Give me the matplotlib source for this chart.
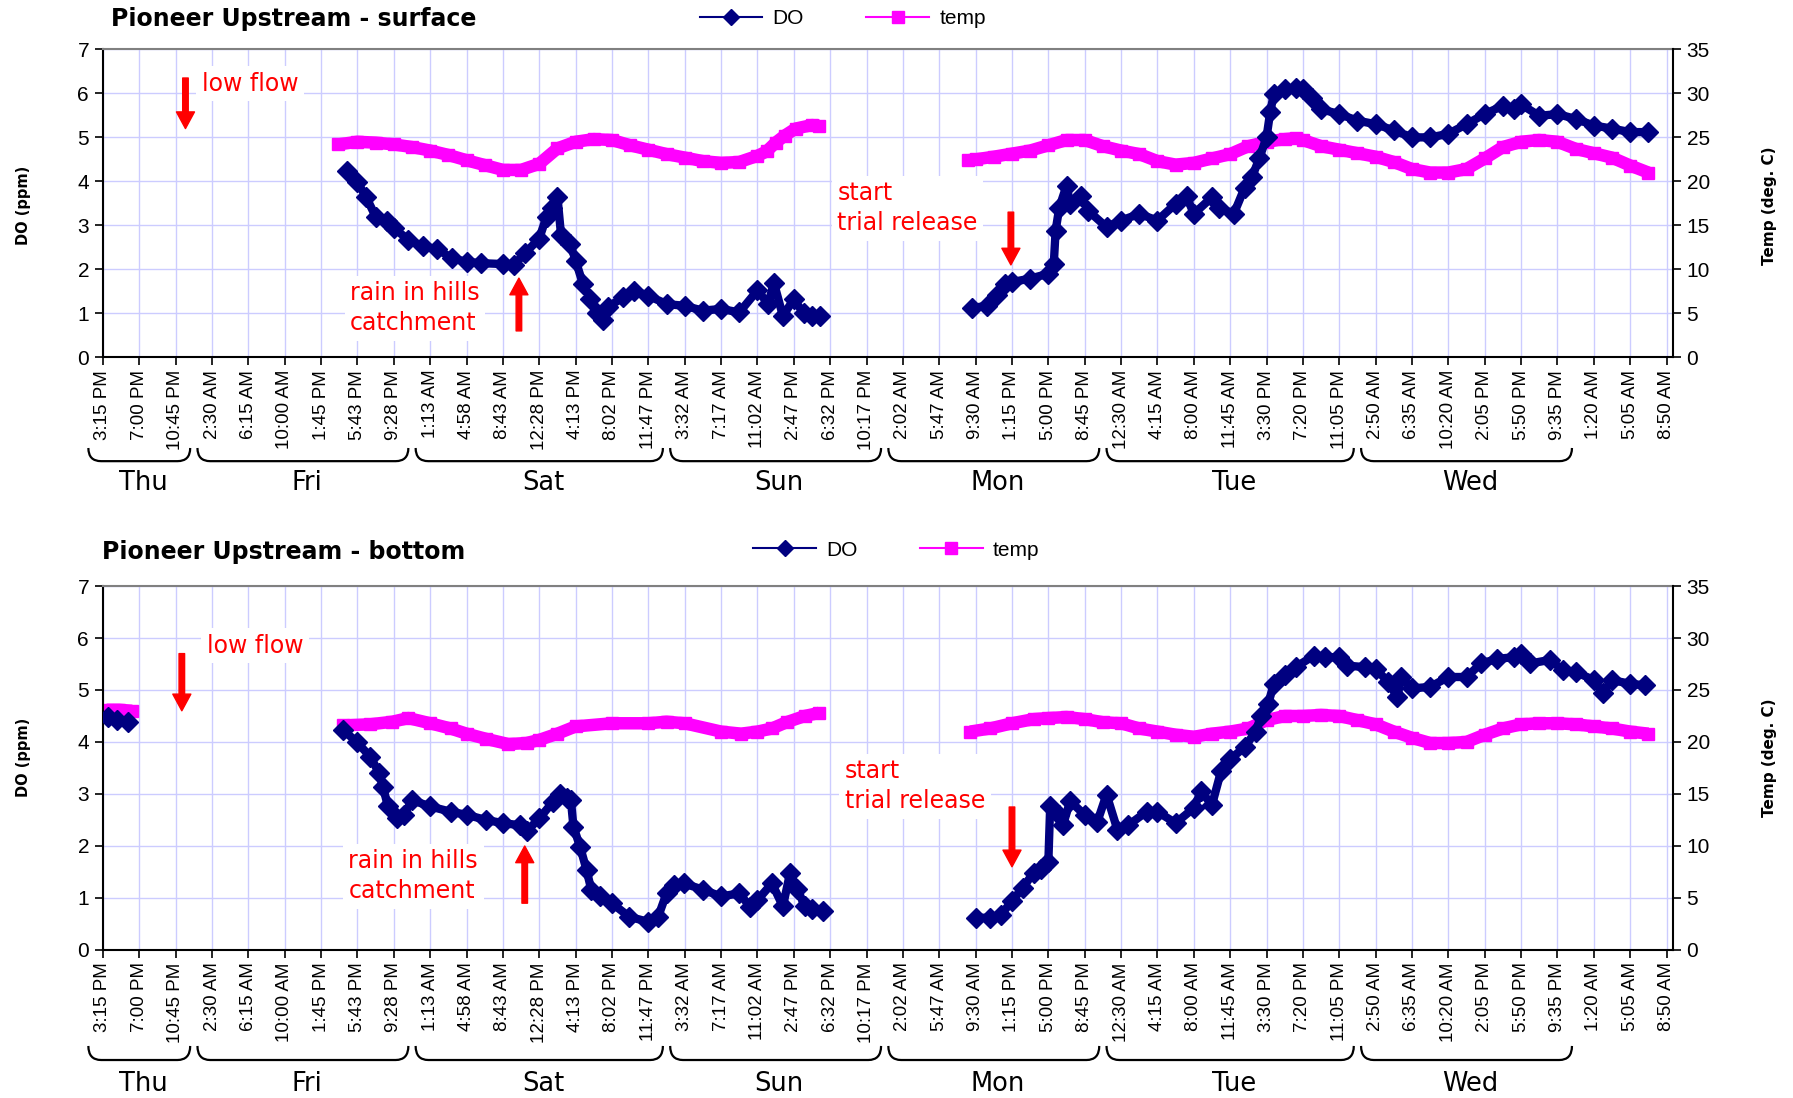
import matplotlib
matplotlib.use("Agg")
import matplotlib.pyplot as plt
import matplotlib.transforms as mtransforms
from matplotlib.path import Path
from matplotlib.patches import PathPatch
from matplotlib.lines import Line2D
import numpy as np

plt.rcParams["font.family"] = ["Liberation Sans", "DejaVu Sans"]

# category labels (one every 15 readings)
tick_labels = [
    "3:15 PM", "7:00 PM", "10:45 PM", "2:30 AM", "6:15 AM", "10:00 AM", "1:45 PM",
    "5:43 PM", "9:28 PM", "1:13 AM", "4:58 AM", "8:43 AM", "12:28 PM", "4:13 PM",
    "8:02 PM", "11:47 PM", "3:32 AM", "7:17 AM", "11:02 AM", "2:47 PM", "6:32 PM",
    "10:17 PM", "2:02 AM", "5:47 AM", "9:30 AM", "1:15 PM", "5:00 PM", "8:45 PM",
    "12:30 AM", "4:15 AM", "8:00 AM", "11:45 AM", "3:30 PM", "7:20 PM", "11:05 PM",
    "2:50 AM", "6:35 AM", "10:20 AM", "2:05 PM", "5:50 PM", "9:35 PM", "1:20 AM",
    "5:05 AM", "8:50 AM",
]
days = ["Thu", "Fri", "Sat", "Sun", "Mon", "Tue", "Wed"]
day_first = [0, 3, 9, 16, 22, 28, 35]
day_last = [2, 8, 15, 21, 27, 34, 40]

nan = np.nan

# ---- surface ----
surf_do_x = [6.72, 7.0, 7.24, 7.5, 7.8, 8.0, 8.4, 8.8, 9.2, 9.6, 10.0, 10.4, 11.0, 11.3, 11.6,
             12.0, 12.2, 12.35, 12.5, 12.6, 12.85, 13.0, 13.2, 13.4, 13.6, 13.75, 13.9, 14.3,
             14.6, 15.0, 15.5, 16.0, 16.5, 17.0, 17.5, 18.0, 18.3, 18.45, 18.7, 19.0, 19.27,
             19.5, 19.72, nan,
             23.9, 24.3, 24.6, 24.8, 25.0, 25.5, 26.0, 26.15, 26.2, 26.3, 26.5, 26.6, 26.9,
             27.1, 27.6, 28.0, 28.5, 29.0, 29.5, 29.8, 30.0, 30.5, 30.7, 31.1, 31.4, 31.6,
             31.8, 32.0, 32.1, 32.2, 32.5, 32.8, 33.0, 33.25, 33.5, 34.0, 34.5, 35.0, 35.5,
             36.0, 36.5, 37.0, 37.5, 38.0, 38.5, 38.8, 39.0, 39.5, 40.0, 40.5, 41.0, 41.5,
             42.0, 42.5]
surf_do = [4.24, 3.98, 3.64, 3.2, 3.09, 2.94, 2.67, 2.52, 2.46, 2.25, 2.17, 2.14, 2.12, 2.1, 2.36,
           2.7, 3.2, 3.4, 3.65, 2.77, 2.58, 2.2, 1.67, 1.33, 1.0, 0.85, 1.15, 1.36,
           1.51, 1.4, 1.21, 1.17, 1.06, 1.1, 1.02, 1.52, 1.21, 1.7, 0.94, 1.32, 1.0,
           0.94, 0.94, nan,
           1.12, 1.17, 1.42, 1.67, 1.71, 1.79, 1.9, 2.13, 2.88, 3.4, 3.9, 3.49, 3.67,
           3.33, 2.96, 3.11, 3.26, 3.11, 3.49, 3.67, 3.26, 3.64, 3.4, 3.26, 3.86, 4.09,
           4.52, 5.0, 5.57, 5.98, 6.09, 6.13, 6.09, 5.9, 5.64, 5.53, 5.38, 5.3, 5.16,
           5.0, 5.0, 5.08, 5.3, 5.53, 5.72, 5.64, 5.75, 5.49, 5.53, 5.42, 5.27, 5.2,
           5.12, 5.12]
surf_temp_x = [6.47, 7.0, 7.5, 8.0, 8.5, 9.0, 9.5, 10.0, 10.5, 11.0, 11.5, 12.0, 12.5, 13.0,
               13.5, 14.0, 14.5, 15.0, 15.5, 16.0, 16.5, 17.0, 17.5, 18.0, 18.25, 18.5, 18.75,
               19.05, 19.5, 19.7, nan,
               23.8, 24.0, 24.5, 25.0, 25.5, 26.0, 26.5, 27.0, 27.5, 28.0, 28.5, 29.0, 29.5,
               30.0, 30.5, 31.0, 31.5, 32.0, 32.5, 32.8, 33.0, 33.5, 34.0, 34.5, 35.0, 35.5,
               36.0, 36.5, 37.0, 37.5, 38.0, 38.5, 39.0, 39.5, 40.0, 40.5, 41.0, 41.5, 42.0,
               42.5]
surf_temp = [24.2, 24.5, 24.4, 24.2, 23.9, 23.5, 23.0, 22.4, 21.85, 21.3, 21.3, 22.0, 23.75, 24.5,
             24.8, 24.7, 24.1, 23.6, 23.1, 22.7, 22.3, 22.1, 22.2, 22.9, 23.4, 24.4, 25.2,
             26.0, 26.4, 26.3, nan,
             22.4, 22.5, 22.8, 23.15, 23.5, 24.1, 24.7, 24.7, 24.0, 23.5, 23.1, 22.3, 21.9,
             22.1, 22.6, 23.1, 24.0, 24.5, 24.8, 24.9, 24.7, 24.0, 23.6, 23.2, 22.8, 22.2,
             21.4, 21.0, 21.0, 21.4, 22.6, 23.9, 24.5, 24.7, 24.5, 23.7, 23.2, 22.7, 21.8,
             21.0]

# ---- bottom ----
bot_do_x = [0.15, 0.4, 0.7, nan,
            6.61, 6.98, 7.35, 7.6, 7.7, 7.84, 8.08, 8.27, 8.51, 9.0, 9.56, 10.0, 10.54, 11.0,
            11.46, 11.65, 12.0, 12.38, 12.57, 12.75, 12.87, 12.94, 13.12, 13.3, 13.43, 13.67,
            14.0, 14.47, 15.0, 15.27, 15.5, 15.7, 15.98, 16.5, 17.0, 17.5, 17.8, 18.0, 18.4,
            18.7, 18.9, 19.1, 19.3, 19.5, 19.8, nan,
            24.0, 24.4, 24.7, 25.0, 25.3, 25.6, 25.8, 26.0, 26.05, 26.3, 26.4, 26.6, 27.0,
            27.35, 27.6, 27.9, 28.2, 28.7, 29.0, 29.5, 30.0, 30.2, 30.5, 30.75, 31.0, 31.4,
            31.7, 31.85, 32.05, 32.2, 32.5, 32.8, 33.3, 33.6, 34.0, 34.2, 34.7, 35.0, 35.35,
            35.6, 35.7, 36.0, 36.5, 37.0, 37.5, 37.9, 38.35, 38.8, 39.0, 39.25, 39.8, 40.15,
            40.5, 41.0, 41.25, 41.5, 42.0, 42.4]
bot_do = [4.48, 4.42, 4.38, nan,
          4.23, 4.0, 3.72, 3.4, 3.14, 2.76, 2.53, 2.6, 2.88, 2.76, 2.66, 2.6, 2.5, 2.44,
          2.4, 2.28, 2.53, 2.85, 3.0, 2.92, 2.88, 2.37, 1.99, 1.54, 1.16, 1.03,
          0.9, 0.64, 0.54, 0.64, 1.09, 1.25, 1.28, 1.16, 1.03, 1.09, 0.83, 0.96, 1.28,
          0.84, 1.49, 1.17, 0.84, 0.78, 0.75, nan,
          0.62, 0.62, 0.68, 0.94, 1.2, 1.49, 1.56, 1.69, 2.76, 2.6, 2.4, 2.86, 2.6,
          2.47, 2.99, 2.31, 2.4, 2.66, 2.66, 2.44, 2.73, 3.05, 2.79, 3.44, 3.67, 3.9,
          4.2, 4.5, 4.74, 5.12, 5.28, 5.44, 5.66, 5.63, 5.63, 5.47, 5.44, 5.41, 5.15,
          4.86, 5.25, 5.03, 5.06, 5.25, 5.25, 5.51, 5.6, 5.63, 5.69, 5.51, 5.58, 5.38,
          5.35, 5.19, 4.94, 5.19, 5.12, 5.09]
bot_temp_x = [0.1, 0.45, 0.8, nan,
              6.61, 7.35, 7.96, 8.4, 9.0, 9.56, 10.0, 10.54, 11.15, 11.65, 12.0, 12.5, 13.0,
              14.0, 15.0, 15.5, 16.0, 17.0, 17.55, 18.0, 18.4, 18.8, 19.3, 19.7, nan,
              23.85, 24.4, 25.0, 25.6, 26.0, 26.5, 27.0, 27.5, 28.0, 28.5, 29.0, 29.5, 30.0,
              30.5, 31.0, 31.5, 32.0, 32.5, 33.0, 33.5, 34.0, 34.5, 35.0, 35.5, 36.0, 36.5,
              37.0, 37.5, 38.0, 38.5, 39.0, 39.5, 40.0, 40.5, 41.0, 41.5, 42.0, 42.5]
bot_temp = [23.1, 23.1, 23.0, nan,
            21.6, 21.7, 21.95, 22.3, 21.8, 21.3, 20.8, 20.3, 19.8, 19.9, 20.2, 20.8, 21.5,
            21.8, 21.8, 21.95, 21.8, 21.0, 20.8, 21.0, 21.3, 21.9, 22.5, 22.8, nan,
            21.0, 21.3, 21.8, 22.2, 22.3, 22.4, 22.2, 21.9, 21.8, 21.3, 21.0, 20.7, 20.5,
            20.8, 21.0, 21.3, 22.1, 22.5, 22.5, 22.6, 22.5, 22.1, 21.7, 21.0, 20.4, 19.9,
            19.9, 20.0, 20.7, 21.3, 21.7, 21.8, 21.8, 21.7, 21.5, 21.3, 21.0, 20.8]

DO_COLOR = "#000080"
TEMP_COLOR = "#ff00ff"
GRID_COLOR = "#ccccff"

fig = plt.figure(figsize=(17.93, 10.98), dpi=100)


def draw_brace(ax, x0, x1, y_top, y_bot):
    trans = mtransforms.blended_transform_factory(ax.transData, fig.transFigure)
    r = 0.35
    verts = [(x0, y_top), (x0, y_bot), (x0 + r, y_bot), (x1 - r, y_bot), (x1, y_bot), (x1, y_top)]
    codes = [Path.MOVETO, Path.CURVE3, Path.CURVE3, Path.LINETO, Path.CURVE3, Path.CURVE3]
    patch = PathPatch(Path(verts, codes), transform=trans, fill=False, lw=1.6,
                      edgecolor="black", clip_on=False)
    fig.add_artist(patch)


def draw_panel(rect, do_x, do_y, t_x, t_y, notes, brace_y, label_y):
    ax = fig.add_axes(rect)
    ax2 = ax.twinx()
    ax.set_xlim(0, 43.17)
    ax.set_ylim(0, 7)
    ax2.set_ylim(0, 35)

    ax.set_xticks(range(len(tick_labels)))
    ax.set_xticklabels(tick_labels, rotation=90, fontsize=13.5)
    ax.set_yticks(range(8))
    ax2.set_yticks(range(0, 36, 5))
    ax.tick_params(axis="y", labelsize=15, length=6, width=1.2, pad=4)
    ax2.tick_params(axis="y", labelsize=15, length=6, width=1.2, pad=4)
    ax.tick_params(axis="x", length=6, width=1.2, pad=3)
    ax.grid(True, color=GRID_COLOR, lw=1.0, zorder=0)
    ax.set_axisbelow(True)

    for s in ["left", "bottom"]:
        ax.spines[s].set_linewidth(1.5)
    ax.spines["top"].set_color("#808080")
    ax.spines["top"].set_linewidth(1.5)
    ax.spines["right"].set_visible(False)
    ax2.spines["right"].set_linewidth(1.5)
    for s in ["left", "top", "bottom"]:
        ax2.spines[s].set_visible(False)

    # temp drawn on the host axes through the right-hand scale so DO stays on top
    ax.plot(t_x, t_y, color=TEMP_COLOR, lw=9, solid_capstyle="butt",
            transform=ax2.transData, zorder=2)
    ax.plot(t_x, t_y, color=TEMP_COLOR, lw=0, marker="s", ms=9,
            transform=ax2.transData, zorder=2)
    ax.plot(do_x, do_y, color=DO_COLOR, lw=6, zorder=3)
    ax.plot(do_x, do_y, color=DO_COLOR, lw=1.5, marker="D", ms=10.5, zorder=3)

    for txt, tx, ty, ax0, ay0, ax1, ay1 in notes:
        ax.text(tx, ty, txt, color="red", fontsize=17, va="center", ha="left",
                family="DejaVu Sans", linespacing=1.3, zorder=4,
                bbox=dict(facecolor="white", edgecolor="none", pad=4))
        ax.annotate("", xy=(ax1, ay1), xytext=(ax0, ay0), zorder=5,
                    arrowprops=dict(facecolor="red", edgecolor="red", width=4,
                                    headwidth=13, headlength=12, shrink=0))

    trans = mtransforms.blended_transform_factory(ax.transData, fig.transFigure)
    for name, a, b in zip(days, day_first, day_last):
        draw_brace(ax, a - 0.4, b + 0.4, brace_y[0], brace_y[1])
        ax.text((a + b) / 2 + 0.1, label_y, name, transform=trans, ha="center", va="center",
                fontsize=18.5, family="DejaVu Sans", clip_on=False)
    return ax


surf_notes = [
    ("low flow", 2.72, 6.22, 2.27, 6.35, 2.27, 5.2),
    ("rain in hills\ncatchment", 6.8, 1.12, 11.44, 0.6, 11.44, 1.8),
    ("start\ntrial release", 20.2, 3.39, 24.97, 3.3, 24.97, 2.1),
]
bot_notes = [
    ("low flow", 2.85, 5.85, 2.17, 5.7, 2.17, 4.6),
    ("rain in hills\ncatchment", 6.75, 1.42, 11.6, 0.9, 11.6, 2.0),
    ("start\ntrial release", 20.4, 3.15, 25.0, 2.75, 25.0, 1.6),
]

draw_panel([0.0574, 0.6746, 0.8755, 0.2804], surf_do_x, surf_do, surf_temp_x, surf_temp,
           surf_notes, (0.592, 0.580), 0.560)
draw_panel([0.0574, 0.1348, 0.8755, 0.3315], bot_do_x, bot_do, bot_temp_x, bot_temp,
           bot_notes, (0.0474, 0.0346), 0.0126)

fig.text(0.062, 0.983, "Pioneer Upstream - surface", fontsize=17, fontweight="bold",
         family="DejaVu Sans", va="center")
fig.text(0.057, 0.497, "Pioneer Upstream - bottom", fontsize=17, fontweight="bold",
         family="DejaVu Sans", va="center")

for yc in (0.8126, 0.3100):
    fig.text(0.013, yc, "DO (ppm)", rotation=90, fontsize=10.5, fontweight="bold",
             family="DejaVu Sans", ha="center", va="center")
    fig.text(0.987, yc, "Temp (deg. C)", rotation=90, fontsize=11, fontweight="bold",
             family="DejaVu Sans", ha="center", va="center")

handles = [
    Line2D([], [], color=DO_COLOR, lw=1.5, marker="D", ms=8),
    Line2D([], [], color=TEMP_COLOR, lw=1.5, marker="s", ms=8),
]
for yc, xc in ((0.983, 0.470), (0.499, 0.500)):
    fig.legend(handles, ["DO", "temp"], loc="center", bbox_to_anchor=(xc, yc), ncol=2,
               frameon=False, fontsize=15, handlelength=3.0, columnspacing=3.0,
               handletextpad=0.5)

fig.savefig("out.png", dpi=100)
